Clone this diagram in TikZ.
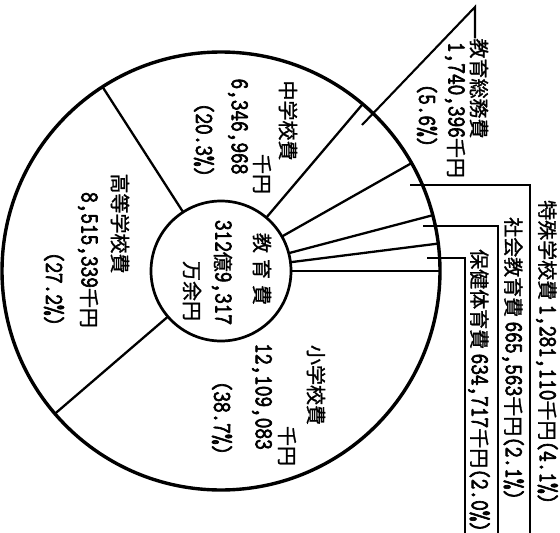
\documentclass[tikz,border=0pt]{standalone}
\usepackage{fontspec}
\setmainfont{Noto Sans CJK JP}[FakeBold=1.2]
\newfontfamily\digfont{lmmono10-regular.otf}[Scale=1.3,FakeStretch=0.78,FakeBold=2.5]
\newcommand\digs[1]{{\digfont #1}}
\usetikzlibrary{calc}

\begin{document}
\begin{tikzpicture}[x=1pt, y=-1pt,
  every node/.style = {rotate=-90, inner sep=0pt,
    font=\fontsize{20}{25}\selectfont},
  rim/.style = {line width=3.4pt},
  spoke/.style = {line width=2.3pt},
  leader/.style = {line width=2.1pt}]
  \useasboundingbox (0,0) rectangle (560,533);
  \coordinate (c) at (221,271);
  % the pie: outer rim, hub and the seven shares
  \draw[rim] (c) circle[radius=219];
  \draw[line width=2.7pt] (c) circle[radius=70];
  \foreach \p in {0,2.0,4.1,8.2,13.8,34.1,61.3}
    \draw[spoke] ($(c)+({-3.6*\p}:70)$) -- ($(c)+({-3.6*\p}:219)$);
  % hub
  \node (tot1) at (262,269) {教\hspace{6pt}育\hspace{6pt}費};
  \node (tot2) at (222,272.5) {\digs{312}億\digs{9,317}};
  \node (tot3) at (192,291) {万余円};
  % shares inside the pie
  \node (mid1) at (288,120.5) {中学校費};
  \node (mid2) at (262,174) {千円};
  \node (mid3) at (238,126.5) {\digs{6,346,968}};
  \node (mid4) at (204,140) {\digs{(20.3\%)}};
  \node (high1) at (120,223.5) {高等学校費};
  \node (high2) at (88,260) {\digs{8,515,339}千円};
  \node (high3) at (54,289) {\digs{(27.2\%)}};
  \node (ele1) at (316,385) {小学校費};
  \node (ele2) at (287,446) {千円};
  \node (ele3) at (262,396.5) {\digs{12,109,083}};
  \node (ele4) at (222,418) {\digs{(38.7\%)}};
  % small shares, led outside
  \node (gen1) at (479,88.5) {教育総務費};
  \node (gen2) at (455,110) {\digs{1,740,396}千円};
  \node (gen3) at (427,115.5) {\digs{(5.6\%)}};
  \coordinate (gen-in) at (362,125);
  \coordinate (gen-top) at (475,7);
  \draw[leader] (gen-in) -- (gen-top) -- (gen-top |- gen1.west);
  \node[anchor=west] (spe) at (547,200) {特殊学校費 \digs{1,281,110}千円\digs{(4.1\%)}};
  \node[anchor=west] (soc) at (513,217) {社会教育費 \digs{665,563}千円\digs{(2.1\%)}};
  \node[anchor=west] (hea) at (479,249) {保健体育費 \digs{634,717}千円\digs{(2.0\%)}};
  \coordinate (spe-in) at (410,185);
  \coordinate (soc-in) at (423,226);
  \coordinate (hea-in) at (427,258);
  \coordinate (spe-end) at (530,533);
  \coordinate (soc-end) at (498,533);
  \coordinate (hea-end) at (465,533);
  \draw[leader] (spe-in) -| (spe-end);
  \draw[leader] (soc-in) -| (soc-end);
  \draw[leader] (hea-in) -| (hea-end);
\end{tikzpicture}
\end{document}
